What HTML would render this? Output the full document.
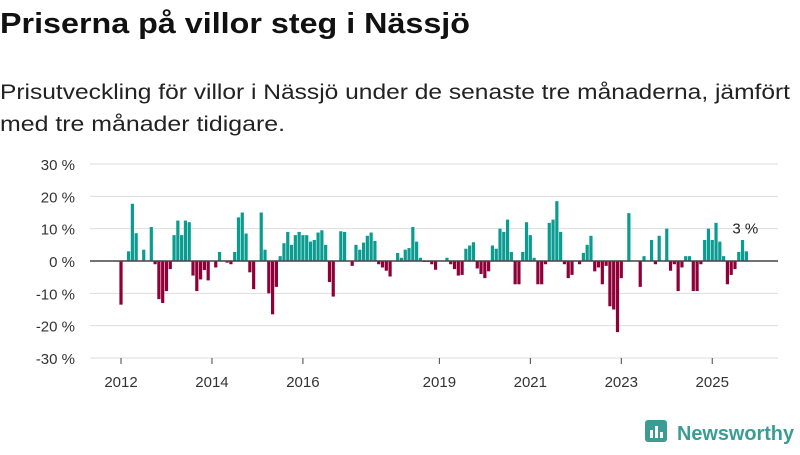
<!DOCTYPE html>
<html><head><meta charset="utf-8"><style>
body{margin:0;width:800px;height:450px;background:#fff;font-family:"Liberation Sans","DejaVu Sans",sans-serif;overflow:hidden}
</style></head><body>
<svg width="800" height="450" xmlns="http://www.w3.org/2000/svg">
<text x="0" y="33" font-size="29" font-weight="bold" fill="#111" textLength="470" lengthAdjust="spacingAndGlyphs">Priserna på villor steg i Nässjö</text>
<text x="0" y="99" font-size="21" fill="#222" textLength="790" lengthAdjust="spacingAndGlyphs">Prisutveckling för villor i Nässjö under de senaste tre månaderna, jämfört</text>
<text x="0" y="131" font-size="21" fill="#222" textLength="285" lengthAdjust="spacingAndGlyphs">med tre månader tidigare.</text>
<g id="grid"></g><g id="bars"></g><g id="axes"></g>
<g>
<rect x="645" y="420" width="22" height="22" rx="3" fill="#3a9d94"/>
<rect x="650" y="430" width="3" height="8" fill="#fff"/><rect x="655" y="426" width="3" height="12" fill="#fff"/><rect x="660" y="432" width="3" height="6" fill="#fff"/>
<text x="677" y="440" font-size="20" font-weight="bold" fill="#3a9d94" textLength="117" lengthAdjust="spacingAndGlyphs">Newsworthy</text>
</g>
</svg>
<script>
const values=[-13.5,0,3,17.7,8.6,0,3.5,0,10.5,-1,-11.8,-13,-9.3,-2.5,8,12.5,8,12.5,12,-4.5,-9.3,-5.7,-2.8,-6,0,-2,2.8,0,-0.5,-1,2.8,13.5,15,8.5,-3.5,-8.7,0,15,3.5,-10,-16.5,-8,1.5,5.5,9,5,8,9,8,8,6,6.5,8.8,9.5,5,-6.5,-11,0,9.2,9,0,-1.5,5,3.5,5.7,7.8,8.8,6.2,-1,-2,-3,-4.8,0,2.5,1,3.5,4,10.5,6,1,-0.3,-0.3,-1,-2.7,0,0,1,-1,-2.5,-4.5,-4.3,3.8,4.8,5.8,-2.3,-4,-5.3,-3.2,4.8,3.8,10,9,12.8,2.8,-7.2,-7.2,2.8,12,8,1,-7.2,-7.2,-1,11.8,12.8,18.5,9,-1,-5.3,-4.3,0,-1,2.5,5,7.8,-3.2,-2,-7.2,-1.5,-14,-15,-22,-5.3,0,14.8,0,0,-8,1.5,0,6.5,-1,7.8,0,10,-3,-1,-9.3,-2,1.5,1.5,-9.3,-9.3,-1,6.5,10,6.5,11.8,6,1.5,-7.2,-4.3,-2.5,2.8,6.5,3];
const startYear=2012;
const yTicks=[30,20,10,0,-10,-20,-30];
const xTickYears=[2012,2014,2016,2019,2021,2023,2025];
const lastLabel="3 %";
const NS="http://www.w3.org/2000/svg";
const y0=261,pxPer=3.233,x0=121,mStep=3.79;
const ys=v=>y0-v*pxPer;
const xm=i=>x0+i*mStep;
const mk=(t,a,p)=>{const e=document.createElementNS(NS,t);for(const k in a)e.setAttribute(k,a[k]);p.appendChild(e);return e;};
const grid=document.getElementById('grid'),bars=document.getElementById('bars'),axes=document.getElementById('axes');
yTicks.forEach(t=>{
 const l=mk('line',{x1:90,x2:778,y1:ys(t),y2:ys(t),stroke:'#ddd','stroke-width':1},grid);
 
 
 const tx=mk('text',{x:75,y:ys(t)+6,'font-size':15,'text-anchor':'end',fill:'#333'},axes);
 tx.textContent=t+' %';
 
 
});
values.forEach((v,i)=>{
 const y=Math.min(ys(v),y0),h=Math.abs(ys(v)-y0);
 const r=mk('rect',{x:xm(i)-1.6,y:y,width:3.2,height:h,fill:v>=0?'#0b9c91':'#8f0039'},bars);
 
 
});
const zl=mk('line',{x1:90,x2:778,y1:y0,y2:y0,stroke:'#444','stroke-width':1.5},axes);


xTickYears.forEach(yr=>{
 const x=xm((yr-startYear)*12);
 const tk=mk('line',{x1:x,x2:x,y1:358,y2:364,stroke:'#444'},axes);
 
 
 const tx=mk('text',{x:x,y:387,'font-size':15,'text-anchor':'middle',fill:'#333'},axes);
 tx.textContent=yr;
 
 
});
const li=values.length-1;
const lb=mk('text',{x:xm(li)-1,y:ys(values[li])-18,'font-size':15,'text-anchor':'middle',fill:'#222'},axes);
lb.textContent=lastLabel;


</script>
</body></html>
